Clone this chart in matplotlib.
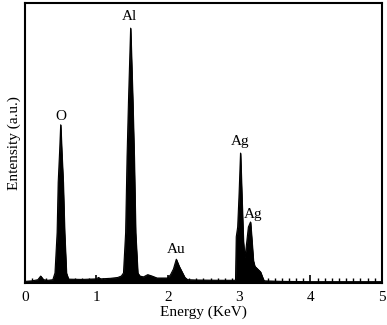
import numpy as np
import matplotlib
matplotlib.use("Agg")
import matplotlib.pyplot as plt
from matplotlib.ticker import MultipleLocator

plt.rcParams['font.family'] = ['Liberation Serif', 'DejaVu Serif']

# spectrum (energy in KeV, intensity as fraction of full scale)
energy = [0.00, 0.10, 0.18, 0.22, 0.26, 0.32, 0.39, 0.42, 0.45, 0.465, 0.485,
          0.50, 0.515, 0.535, 0.555, 0.58, 0.61, 0.80, 1.00, 1.03, 1.06, 1.20,
          1.30, 1.35, 1.38, 1.41, 1.43, 1.45, 1.48, 1.51, 1.53, 1.55, 1.58,
          1.61, 1.66, 1.72, 1.78, 1.85, 2.00, 2.04, 2.08, 2.12, 2.16, 2.20,
          2.24, 2.28, 2.40, 2.70, 2.95, 2.96, 2.98, 3.00, 3.02, 3.04, 3.06,
          3.08, 3.10, 3.13, 3.16, 3.18, 3.20, 3.22, 3.26, 3.30, 3.33, 3.35,
          3.60, 4.00, 4.50, 5.00]
intensity = [0.006, 0.008, 0.012, 0.025, 0.012, 0.010, 0.012, 0.036, 0.180,
             0.360, 0.470, 0.565, 0.470, 0.360, 0.180, 0.036, 0.014, 0.013,
             0.015, 0.020, 0.015, 0.017, 0.020, 0.025, 0.036, 0.180, 0.450,
             0.650, 0.910, 0.650, 0.450, 0.180, 0.036, 0.025, 0.022, 0.030,
             0.025, 0.018, 0.018, 0.030, 0.050, 0.085, 0.060, 0.040, 0.020,
             0.012, 0.011, 0.010, 0.010, 0.165, 0.200, 0.320, 0.464, 0.300,
             0.150, 0.090, 0.130, 0.200, 0.218, 0.150, 0.080, 0.060, 0.050,
             0.040, 0.020, 0.008, 0.006, 0.005, 0.005, 0.005]

labels = ['O', 'Al', 'Au', 'Ag', 'Ag']
label_x = [0.50, 1.47, 2.12, 3.01, 3.20]
label_y = [0.595, 0.95, 0.12, 0.505, 0.245]

fig = plt.figure(figsize=(3.87, 3.25), dpi=100)
ax = fig.add_axes([0.0646, 0.129, 0.922, 0.862])

ax.fill_between(energy, 0, intensity, color='black', lw=0.6, edgecolor='black')
ax.plot(energy, intensity, color='black', lw=0.8)

for t, x, y in zip(labels, label_x, label_y):
    ax.text(x, y, t, ha='center', va='center', fontsize=11)

ax.set_xlim(0, 5)
ax.set_ylim(0, 1)
ax.set_yticks([])
ax.xaxis.set_major_locator(MultipleLocator(1))
ax.xaxis.set_minor_locator(MultipleLocator(0.1))
ax.tick_params(axis='x', which='major', direction='in', length=6, width=1.2,
               labelsize=11, pad=6)
ax.tick_params(axis='x', which='minor', direction='in', length=3.5, width=1.0)
for s in ax.spines.values():
    s.set_linewidth(1.5)

ax.set_xlabel('Energy (KeV)', fontsize=11, labelpad=1)
ax.set_ylabel('Entensity (a.u.)', fontsize=11, labelpad=3)

fig.savefig('out.png', dpi=100)
